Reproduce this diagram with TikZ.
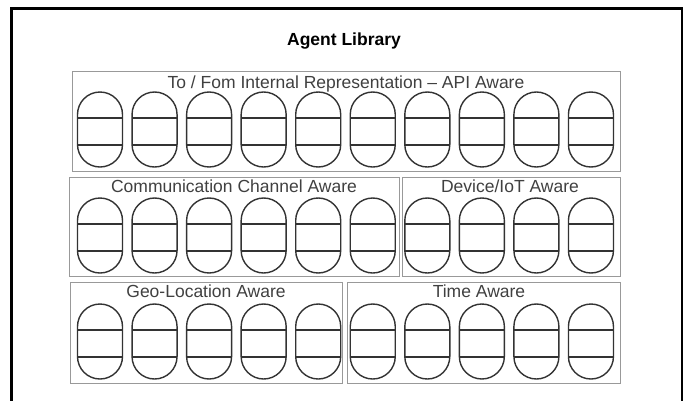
\documentclass[tikz,border=0pt]{standalone}
\usepackage{fontspec}
\setmainfont{Liberation Sans}
\begin{document}
\begin{tikzpicture}[x=1pt,y=-1pt,
  frame/.style={draw=black,line width=2.5pt},
  group/.style={draw=black!40,line width=1pt},
  grouplabel/.style={anchor=base,inner sep=0pt,text=black!75,
    font=\fontsize{17.5}{20}\selectfont},
  pod/.style={draw=black!80,line width=1.4pt},
  capsule/.pic={
    % vertical pill: half-circle caps joined by straight sides (drawn y-up)
    \begin{scope}[yscale=-1]
      \draw[pod] (-22.5,-22.5) arc[start angle=180,end angle=0,radius=22.5]
        -- (22.5,-52.5) arc[start angle=0,end angle=-180,radius=22.5] -- cycle;
      \draw[pod] (-22.5,-26) -- (22.5,-26) (-22.5,-53) -- (22.5,-53);
    \end{scope}
  }]
\useasboundingbox (0,0) rectangle (688,400);

% outer frame (open at the bottom)
\draw[frame] (11.5,401) -- (11.5,8.5) -- (682,8.5) -- (682,401);

\node[anchor=base,inner sep=0pt,font=\bfseries\fontsize{17.5}{20}\selectfont]
  (title) at (344,45.5) {Agent Library};

% group boxes
\draw[group] (72,71) rectangle (620,171);
\draw[group] (69,177) rectangle (399,276);
\draw[group] (402,177) rectangle (620,276);
\draw[group] (70,282) rectangle (342,383);
\draw[group] (347,282) rectangle (620,383);

\node[grouplabel] (api) at (346,88) {To / Fom Internal Representation – API Aware};
\node[grouplabel] (comm) at (234,192.5) {Communication Channel Aware};
\node[grouplabel] (iot) at (510,192.5) {Device/IoT Aware};
\node[grouplabel] (geo) at (206,297) {Geo-Location Aware};
\node[grouplabel] (time) at (479,297) {Time Aware};

% agents
\foreach \i in {0,...,9}
  \pic at ({100+54.55*\i},92) {capsule};
\foreach \i in {0,...,9}
  \pic at ({100+54.55*\i},198) {capsule};
\foreach \i in {0,...,9}
  \pic at ({100+54.55*\i},304) {capsule};
\end{tikzpicture}
\end{document}
